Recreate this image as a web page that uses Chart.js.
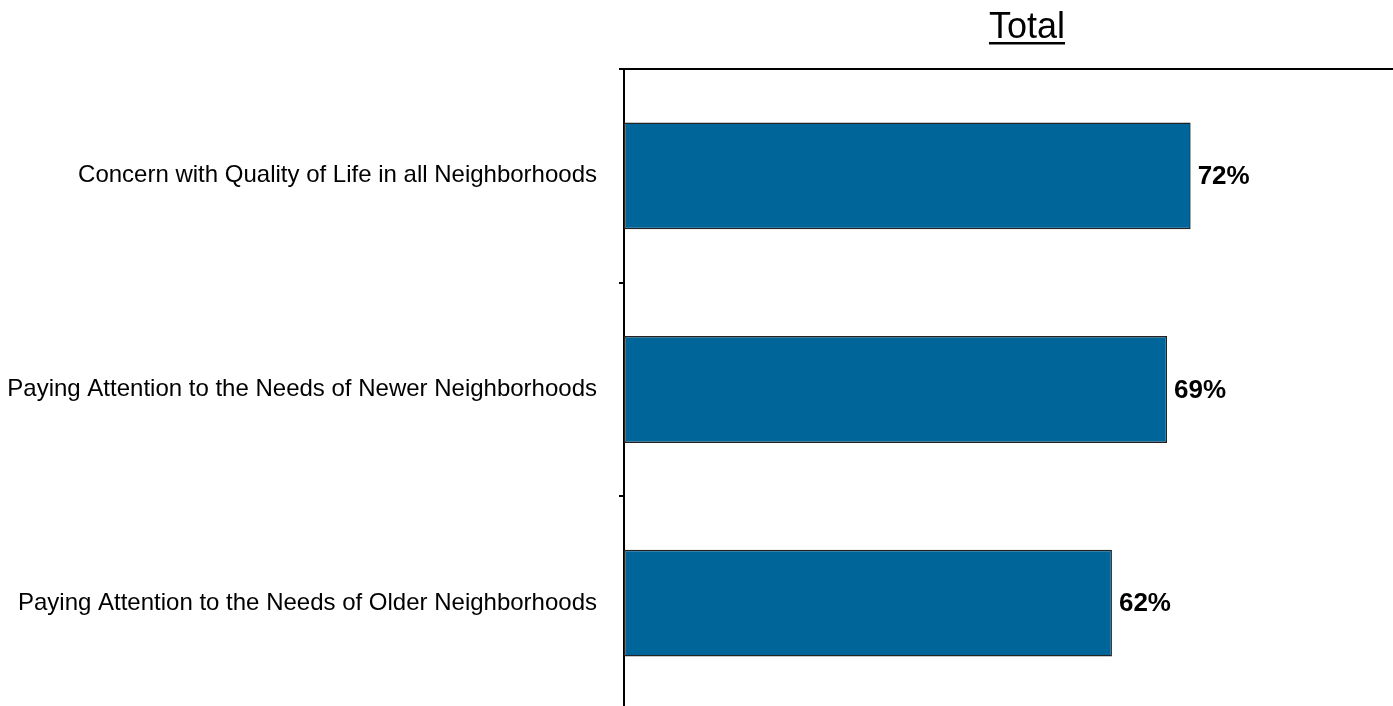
<!DOCTYPE html>
<html>
<head>
<meta charset="utf-8">
<title>Total</title>
<script src="https://cdn.jsdelivr.net/npm/chart.js@4.4.0/dist/chart.umd.min.js"></script>
<style>
  html, body { margin: 0; padding: 0; background: #fff; overflow: hidden; }
  #wrap { position: relative; width: 1411px; height: 710px; }
</style>
</head>
<body>
<div id="wrap"><canvas id="chart"></canvas></div>
<script>
const categories = [
  'Concern with Quality of Life in all Neighborhoods',
  'Paying Attention to the Needs of Newer Neighborhoods',
  'Paying Attention to the Needs of Older Neighborhoods'
];
const totals = [72, 69, 62];
const chartTitle = 'Total';

const FONT = '"Liberation Sans", Arial, Helvetica, sans-serif';

// percent labels just past the end of each bar
const valueLabels = {
  id: 'valueLabels',
  afterDatasetsDraw(chart) {
    const ctx = chart.ctx;
    const meta = chart.getDatasetMeta(0);
    ctx.save();
    ctx.font = 'bold 26px ' + FONT;
    ctx.fillStyle = '#000';
    ctx.textAlign = 'left';
    ctx.textBaseline = 'middle';
    meta.data.forEach((bar, i) => {
      ctx.fillText(chart.data.datasets[0].data[i] + '%', bar.x + 7, bar.y + 1);
    });
    ctx.restore();
  }
};

// underlined heading above the plot
const underlinedTitle = {
  id: 'underlinedTitle',
  afterDraw(chart) {
    const ctx = chart.ctx;
    const cx = 1027, baseline = 38;
    ctx.save();
    ctx.font = '36px ' + FONT;
    ctx.fillStyle = '#000';
    ctx.textAlign = 'center';
    ctx.textBaseline = 'alphabetic';
    ctx.fillText(chartTitle, cx, baseline);
    const w = ctx.measureText(chartTitle).width;
    ctx.fillRect(cx - w / 2, baseline + 4, w, 2.5);
    ctx.restore();
  }
};

new Chart(document.getElementById('chart'), {
  type: 'bar',
  data: {
    labels: categories,
    datasets: [{
      data: totals,
      backgroundColor: '#006699',
      borderColor: '#222',
      borderWidth: 1.5,
      borderSkipped: false,
      barPercentage: 0.5,
      categoryPercentage: 1
    }]
  },
  options: {
    indexAxis: 'y',
    responsive: true,
    maintainAspectRatio: false,
    animation: false,
    layout: { padding: { top: 69, left: 0, right: 0, bottom: 0 } },
    plugins: {
      legend: { display: false },
      tooltip: { enabled: false },
      title: { display: false }
    },
    scales: {
      x: {
        position: 'top',
        min: 0,
        max: 100,
        ticks: { display: false },
        grid: { display: false, drawTicks: false },
        border: { display: true, color: '#000', width: 2 },
        afterFit(scale) {
          scale.height = 0;
          scale.paddingLeft = 0;
          scale.paddingRight = 0;
        }
      },
      y: {
        position: 'left',
        ticks: {
          color: '#000',
          font: { family: FONT, size: 24 },
          padding: 22
        },
        grid: {
          display: true,
          offset: true,
          drawOnChartArea: false,
          drawTicks: true,
          tickLength: 5,
          color: '#000',
          lineWidth: 2
        },
        border: { display: true, color: '#000', width: 2 },
        afterFit(scale) {
          scale.width = 624;
          scale.paddingTop = 0;
          scale.paddingBottom = 0;
        }
      }
    }
  },
  plugins: [valueLabels, underlinedTitle]
});
</script>
</body>
</html>
